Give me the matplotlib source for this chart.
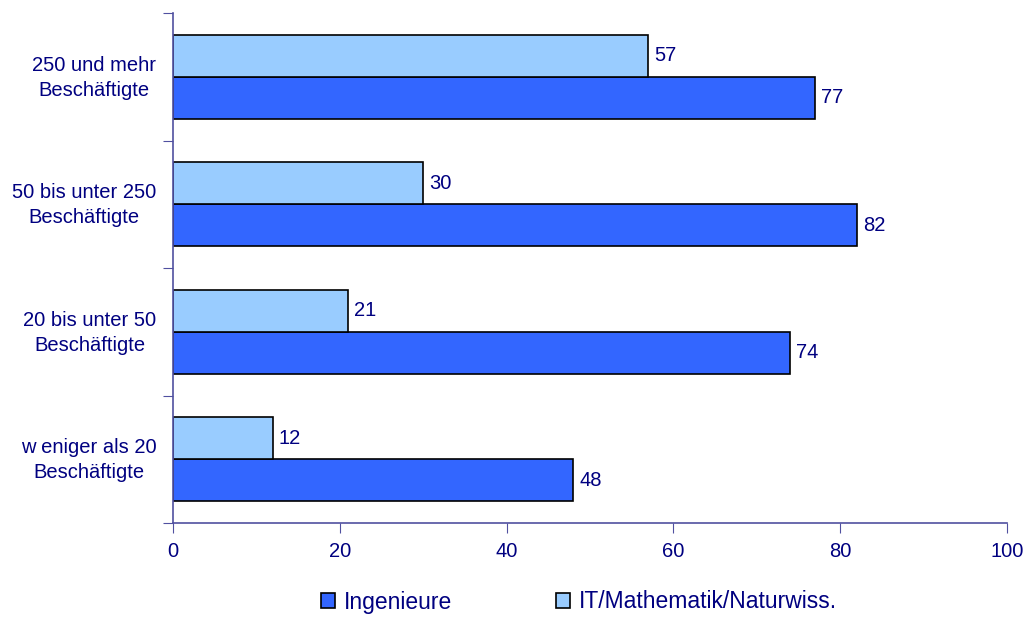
import numpy as np
import matplotlib
matplotlib.use("Agg")
import matplotlib.pyplot as plt
import matplotlib.transforms as mtransforms

plt.rcParams['font.family'] = ['Liberation Sans', 'DejaVu Sans']

# categories bottom to top
categories = ["w eniger als 20\nBeschäftigte", "20 bis unter 50\nBeschäftigte",
              "50 bis unter 250\nBeschäftigte", "250 und mehr\nBeschäftigte"]
ingenieure = [48, 74, 82, 77]
it_math = [12, 21, 30, 57]

navy = "#000080"
axis_col = "#5050A0"

fig = plt.figure(figsize=(10.29, 6.19), dpi=100)
ax = fig.add_axes([173 / 1029, 1 - 523 / 619, (1007 - 173) / 1029, (523 - 13) / 619])

y = np.arange(len(categories))
h = 0.33
b1 = ax.barh(y - h / 2, ingenieure, height=h, color="#3366FF", edgecolor="black", linewidth=1.2,
             label="Ingenieure")
b2 = ax.barh(y + h / 2, it_math, height=h, color="#99CCFF", edgecolor="black", linewidth=1.2,
             label="IT/Mathematik/Naturwiss.")

for bars in (b1, b2):
    for r in bars:
        ax.text(r.get_width() + 0.7, r.get_y() + r.get_height() / 2, f"{r.get_width():.0f}",
                va="center", ha="left", fontsize=14.5, color=navy)

ax.set_xlim(0, 100)
ax.set_ylim(-0.5, len(categories) - 0.5)
ax.set_xticks([0, 20, 40, 60, 80, 100])
ax.set_yticks(np.arange(-0.5, len(categories), 1.0), minor=False)
ax.set_yticklabels([])
ax.set_yticks(y, minor=True)
ax.set_yticklabels(categories, minor=True, multialignment="center", linespacing=1.4)
ax.tick_params(axis="y", which="minor", length=0, pad=12, labelsize=14.5, labelcolor=navy)
ax.tick_params(axis="y", which="major", length=7, color=axis_col)
ax.tick_params(axis="x", length=7, color=axis_col, labelsize=14.5, labelcolor=navy, pad=7)

# nudge category labels up a little
shift = mtransforms.ScaledTranslation(0, 4 / 100, fig.dpi_scale_trans)
for lab in ax.get_yticklabels(minor=True):
    lab.set_transform(lab.get_transform() + shift)

for s in ("top", "right"):
    ax.spines[s].set_visible(False)
for s in ("left", "bottom"):
    ax.spines[s].set_color(axis_col)
    ax.spines[s].set_linewidth(1.2)

leg = fig.legend(handles=[b1, b2], loc="center", bbox_to_anchor=(579 / 1029, 1 - 602 / 619), ncol=2,
                 frameon=False, fontsize=16.5, handlelength=0.61, handleheight=0.61,
                 handletextpad=0.4, columnspacing=4.5)
for t in leg.get_texts():
    t.set_color(navy)

fig.savefig("out.png", dpi=100)
